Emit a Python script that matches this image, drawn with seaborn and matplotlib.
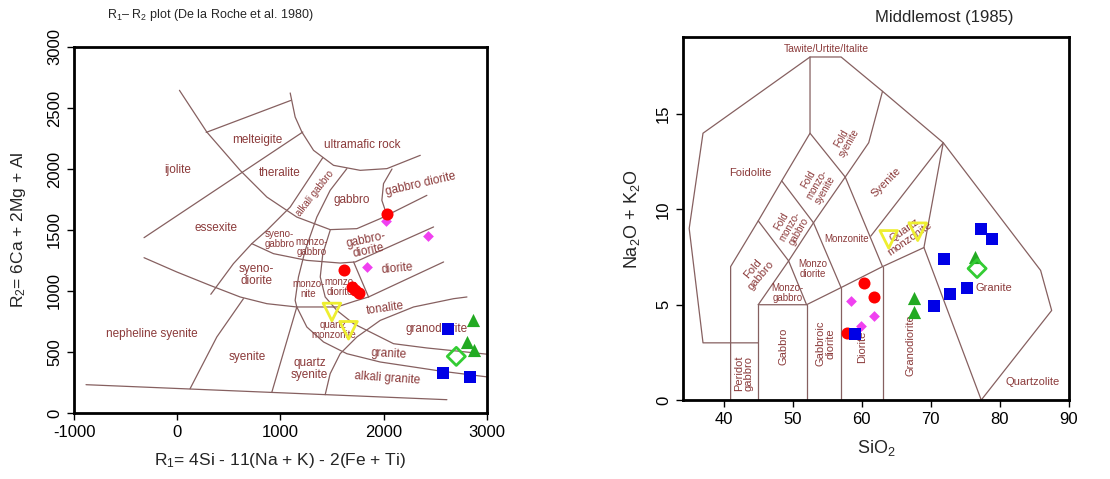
import numpy as np
import pandas as pd
import matplotlib
matplotlib.use("Agg")
import matplotlib.pyplot as plt
import seaborn as sns

sns.set_theme(style="white")
plt.rcParams['font.family'] = ['Liberation Sans', 'DejaVu Sans']
plt.rcParams['mathtext.fontset'] = 'custom'
plt.rcParams['mathtext.rm'] = 'Liberation Sans'
plt.rcParams['mathtext.it'] = 'Liberation Sans:italic'
plt.rcParams['axes.unicode_minus'] = False

LINE = '#866060'
TXT = '#8b3a3a'

# ---------------- R1-R2 (De la Roche) field boundaries, (R1, R2) ----------------
dlr_bottom = [(-884, 232), (2612, 109)]
dlr_outer_arc = [(21, 2645), (286, 2303), (609, 1989), (868, 1770), (1158, 1606),
                 (1481, 1503), (1740, 1511), (1966, 1593), (2418, 1784)]
dlr_melteigite_top = [(280, 2300), (1100, 2562)]
dlr_ultramafic = [(1094, 2623), (1142, 2426), (1207, 2303), (1320, 2153), (1514, 2030),
                  (1772, 1989), (2031, 2003), (2354, 2112)]
dlr_gabbrodiorite_left = [(2080, 2000), (1998, 1880), (1982, 1743), (2031, 1620)]
dlr_ijolite_line = [(1216, 2303), (-322, 1437)]
dlr_alkali_left = [(1410, 2093), (1094, 1688), (868, 1497), (722, 1388), (544, 1224), (325, 973)]
dlr_alkali_right = [(1643, 2003), (1481, 1825), (1352, 1606), (1239, 1333), (1174, 1115),
                    (1142, 923), (1158, 869), (1255, 705), (1417, 582), (1643, 486),
                    (1966, 418), (2289, 377), (2547, 344), (3000, 296)]
dlr_monzo_right = [(1481, 1497), (1410, 1306), (1385, 1115), (1433, 951), (1546, 841),
                   (1708, 732), (2095, 568), (2418, 533), (2741, 505), (3000, 482)]
dlr_syenodiorite_top = [(722, 1388), (932, 1306), (1255, 1251), (1578, 1229), (1724, 1238),
                        (2483, 1525)]
dlr_syenodiorite_base = [(-322, 1273), (-5, 1156), (318, 1046), (609, 951), (868, 896),
                         (1158, 869), (1546, 869), (1724, 918), (1853, 951)]
dlr_monzodiorite_right = [(1708, 1238), (1853, 951)]
dlr_diorite_base = [(1853, 951), (2580, 1238)]
dlr_granodiorite = [(1433, 150), (1481, 322), (1578, 486), (1740, 623), (1966, 759),
                    (2289, 869), (2677, 937), (2806, 951)]
dlr_qsyenite_left = [(1158, 869), (916, 170)]
dlr_syenite_left = [(641, 937), (383, 623), (124, 199)]

dlr_lines = [dlr_bottom, dlr_outer_arc, dlr_melteigite_top, dlr_ultramafic,
             dlr_gabbrodiorite_left, dlr_ijolite_line, dlr_alkali_left, dlr_alkali_right,
             dlr_monzo_right, dlr_syenodiorite_top, dlr_syenodiorite_base,
             dlr_monzodiorite_right, dlr_diorite_base, dlr_granodiorite,
             dlr_qsyenite_left, dlr_syenite_left]

# label, R1, R2, rotation, size
dlr_labels = [
    ("melteigite", 771, 2235, 0, 8.5), ("ultramafic rock", 1788, 2194, 0, 8.5),
    ("ijolite", 5, 1989, 0, 8.5), ("theralite", 997, 1967, 0, 8.5),
    ("alkali gabbro", 1336, 1800, 52, 7), ("gabbro", 1691, 1743, 0, 8.5),
    ("gabbro diorite", 2354, 1880, 13, 8.5), ("essexite", 373, 1519, 0, 8.5),
    ("syeno-\ngabbro", 990, 1430, 0, 7), ("monzo-\ngabbro", 1304, 1360, 0, 7),
    ("gabbro-\ndiorite", 1837, 1374, 12, 8.5), ("diorite", 2128, 1183, 5, 8.5),
    ("syeno-\ndiorite", 764, 1128, 0, 8.5), ("monzo-\nnite", 1271, 1019, 0, 7),
    ("monzo-\ndiorite", 1578, 1033, 0, 7), ("tonalite", 2014, 855, 8, 8.5),
    ("quartz\nmonzonite", 1514, 678, 0, 7), ("granodiorite", 2515, 691, 0, 8.5),
    ("nepheline syenite", -247, 650, 0, 8.5), ("granite", 2047, 481, -3, 8.5),
    ("syenite", 674, 459, 0, 8.5), ("quartz\nsyenite", 1281, 363, 0, 8.5),
    ("alkali granite", 2031, 281, -4, 8.5),
]

# samples on R1-R2
dlr_red_x = [2031, 1617, 1691, 1724, 1756]
dlr_red_y = [1634, 1175, 1033, 1005, 984]
dlr_magenta_x = [2025, 1837, 2425]
dlr_magenta_y = [1574, 1197, 1448]
dlr_yellow_x = [1498, 1659]
dlr_yellow_y = [828, 678]
dlr_blue_x = [2622, 2570, 2838]
dlr_blue_y = [691, 331, 295]
dlr_green_x = [2861, 2806, 2870]
dlr_green_y = [760, 582, 514]
dlr_greenopen_x = [2703]
dlr_greenopen_y = [464]

# ---------------- Middlemost (1985) field boundaries, (SiO2, Na2O+K2O) ----------------
mm_outer = [(45, 3), (37, 3), (35, 9), (37, 14), (52.5, 18), (57, 18), (63, 16.2),
            (71.8, 13.5), (85.9, 6.8), (87.5, 4.7), (77.3, 0)]
mm_foid_inner = [(41, 0), (41, 7), (45, 9.4), (48.4, 11.5), (52.5, 14), (52.5, 18)]
mm_foid_split1 = [(45, 9.4), (49.4, 7.3), (53, 9.3), (57.6, 11.7), (52.5, 14)]
mm_foid_split2 = [(48.4, 11.5), (53, 9.3)]
mm_syenite_left = [(57.6, 11.7), (61, 13.5), (63, 16.2)]
mm_monzo_right = [(57.6, 11.7), (63, 7)]
mm_subalkaline = [(45, 5), (52, 5), (57, 5.9), (63, 7), (69, 8)]
mm_monzogabbro = [(45, 5), (49.4, 7.3), (52, 5)]
mm_monzodiorite = [(53, 9.3), (57, 5.9)]
mm_qmonz_top = [(61.3, 8.6), (71.8, 13.5), (69, 8), (77.3, 0)]
mm_verticals = [[(45, 0), (45, 5)], [(52, 0), (52, 5)], [(57, 0), (57, 5.9)], [(63, 0), (63, 7)]]

mm_lines = [mm_outer, mm_foid_inner, mm_foid_split1, mm_foid_split2, mm_syenite_left,
            mm_monzo_right, mm_subalkaline, mm_monzogabbro, mm_monzodiorite,
            mm_qmonz_top] + mm_verticals

mm_labels = [
    ("Tawite/Urtite/Italite", 54.9, 18.44, 0, 7.5), ("Foidolite", 43.9, 11.9, 0, 8),
    ("Fold\nsyenite", 57.6, 13.6, 60, 7), ("Fold\nmonzo-\nsyenite", 53.5, 11.3, 60, 7),
    ("Syenite", 63.5, 11.45, 45, 8), ("Fold\nmonzo-\ngabbro", 49.6, 9.1, 60, 7),
    ("Quartz\nmonzonite", 66.6, 8.7, 35, 8), ("Monzonite", 57.8, 8.43, 0, 7),
    ("Fold\ngabbro", 44.8, 6.73, 50, 8), ("Monzo\ndiorite", 52.9, 6.9, 0, 7),
    ("Monzo-\ngabbro", 49.2, 5.6, 0, 7), ("Granite", 79.2, 5.9, 0, 8),
    ("Gabbro", 48.7, 2.8, 90, 8), ("Gabbroic\ndiorite", 54.8, 2.97, 90, 8),
    ("Diorite", 60.0, 2.8, 90, 8), ("Granodiorite", 67.1, 2.9, 90, 8),
    ("Peridot\ngabbro", 42.9, 1.4, 90, 8), ("Quartzolite", 84.8, 0.96, 0, 8),
]

mm_red_x = [60.35, 61.8, 57.9]
mm_red_y = [6.12, 5.42, 3.5]
mm_magenta_x = [58.5, 61.8, 59.9]
mm_magenta_y = [5.19, 4.42, 3.88]
mm_blue_x = [59.05, 70.4, 72.8, 75.2, 71.9, 77.3, 78.8]
mm_blue_y = [3.44, 4.93, 5.54, 5.86, 7.41, 8.95, 8.43]
mm_green_x = [67.5, 67.5, 76.4]
mm_green_y = [5.33, 4.63, 7.52]
mm_greenopen_x = [76.7]
mm_greenopen_y = [6.9]
mm_yellow_x = [63.9, 68.1]
mm_yellow_y = [8.43, 8.83]

styles = {
    'red': dict(marker='o', s=75, color='#ff0000', edgecolor='#ff0000', linewidth=0),
    'magenta': dict(marker='D', s=30, color='#f040f0', edgecolor='#f040f0', linewidth=0),
    'blue': dict(marker='s', s=70, color='#0000e6', edgecolor='#0000e6', linewidth=0),
    'green': dict(marker='^', s=90, color='#22aa22', edgecolor='#22aa22', linewidth=0),
    'greenopen': dict(marker='D', s=85, facecolor='none', edgecolor='#33cc33', linewidth=2),
    'yellow': dict(marker='v', s=160, facecolor='none', edgecolor='#eeee30', linewidth=2),
}


def draw_points(ax, xs, ys, key):
    df = pd.DataFrame({'x': xs, 'y': ys})
    sns.scatterplot(data=df, x='x', y='y', ax=ax, legend=False, zorder=5,
                    clip_on=False, **styles[key])


def draw_fields(ax, lines, labels):
    for seg in lines:
        arr = np.array(seg)
        ax.plot(arr[:, 0], arr[:, 1], color=LINE, lw=0.9, zorder=2)
    for txt, x, y, rot, fs in labels:
        ax.text(x, y, txt, color=TXT, fontsize=fs, rotation=rot, ha='center', va='center',
                linespacing=1.0, rotation_mode='anchor', zorder=3)


def style_axes(ax):
    for sp in ax.spines.values():
        sp.set_color('black')
        sp.set_linewidth(2)
    ax.tick_params(bottom=True, left=True, direction='out', length=5, width=1,
                   labelsize=12, colors='black')
    ax.tick_params(axis='y', labelrotation=90)
    for lab in ax.get_yticklabels():
        lab.set_va('center')
    ax.grid(False)
    ax.set_facecolor('white')


fig = plt.figure(figsize=(11.1, 4.79), dpi=100)

ax1 = fig.add_axes([0.0667, 0.1378, 0.372, 0.7641])
draw_fields(ax1, dlr_lines, dlr_labels)
draw_points(ax1, dlr_magenta_x, dlr_magenta_y, 'magenta')
draw_points(ax1, dlr_red_x, dlr_red_y, 'red')
draw_points(ax1, dlr_yellow_x, dlr_yellow_y, 'yellow')
draw_points(ax1, dlr_blue_x, dlr_blue_y, 'blue')
draw_points(ax1, dlr_green_x, dlr_green_y, 'green')
draw_points(ax1, dlr_greenopen_x, dlr_greenopen_y, 'greenopen')
ax1.set_xlim(-1000, 3000)
ax1.set_ylim(0, 3000)
ax1.set_xticks([-1000, 0, 1000, 2000, 3000])
ax1.set_yticks([0, 500, 1000, 1500, 2000, 2500, 3000])
style_axes(ax1)
ax1.set_xlabel("R$_1$= 4Si - 11(Na + K) - 2(Fe + Ti)", fontsize=12.5, labelpad=8)
ax1.set_ylabel("R$_2$= 6Ca + 2Mg + Al", fontsize=12.5, labelpad=14)

ax2 = fig.add_axes([0.6153, 0.1649, 0.3477, 0.7579])
draw_fields(ax2, mm_lines, mm_labels)
draw_points(ax2, mm_magenta_x, mm_magenta_y, 'magenta')
draw_points(ax2, mm_red_x, mm_red_y, 'red')
draw_points(ax2, mm_blue_x, mm_blue_y, 'blue')
draw_points(ax2, mm_green_x, mm_green_y, 'green')
draw_points(ax2, mm_greenopen_x, mm_greenopen_y, 'greenopen')
draw_points(ax2, mm_yellow_x, mm_yellow_y, 'yellow')
ax2.set_xlim(34.1, 90)
ax2.set_ylim(0, 19.05)
ax2.set_xticks([40, 50, 60, 70, 80, 90])
ax2.set_yticks([0, 5, 10, 15])
style_axes(ax2)
ax2.set_xlabel("SiO$_2$", fontsize=13, labelpad=8)
ax2.set_ylabel("Na$_2$O + K$_2$O", fontsize=13, labelpad=10)

fig.text(0.189, 0.968, "R$_1$\u2013 R$_2$ plot (De la Roche et al. 1980)", ha='center',
         va='center', fontsize=9)
fig.text(0.851, 0.963, "Middlemost (1985)", ha='center', va='center', fontsize=12)

fig.savefig("out.png", dpi=100, facecolor='white')
